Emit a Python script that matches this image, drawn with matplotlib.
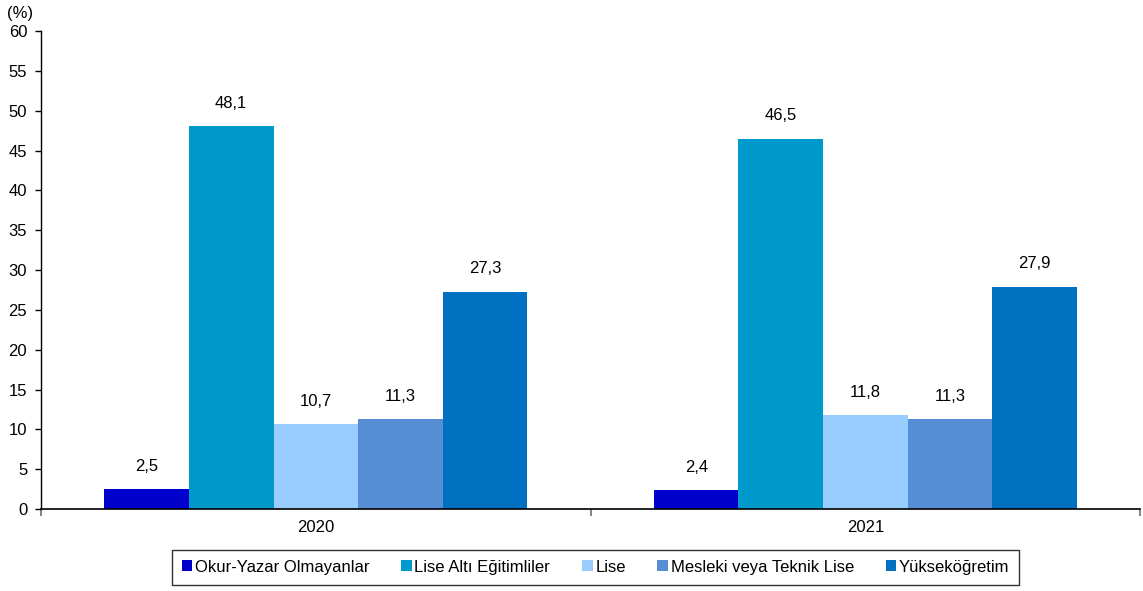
import numpy as np
import matplotlib.pyplot as plt

plt.rcParams['font.family'] = ['Liberation Sans', 'DejaVu Sans']

years = ["2020", "2021"]
series = ["Okur-Yazar Olmayanlar", "Lise Altı Eğitimliler", "Lise",
          "Mesleki veya Teknik Lise", "Yükseköğretim"]
values = [
    [2.5, 2.4],
    [48.1, 46.5],
    [10.7, 11.8],
    [11.3, 11.3],
    [27.3, 27.9],
]
colors = ["#0000CC", "#0099CC", "#99CCFF", "#558ED5", "#0070C0"]

fig = plt.figure(figsize=(11.43, 5.91), dpi=100)
ax = fig.add_axes([0.0359, 0.1387, 0.9615, 0.8088])

w = 1 / 6.5
centers = np.arange(len(years)) + 0.5
for i, (name, vals, c) in enumerate(zip(series, values, colors)):
    xs = centers + (i - 2) * w
    ax.bar(xs, vals, width=w, color=c, label=name, linewidth=0)
    for x, v in zip(xs, vals):
        ax.annotate(f"{v:.1f}".replace(".", ","), (x, v), xytext=(0, 11),
                    textcoords="offset points", ha="center", va="bottom",
                    fontsize=12)

ax.set_xlim(0, len(years))
ax.set_ylim(0, 60)
ax.set_yticks(range(0, 61, 5))
ax.tick_params(axis="y", labelsize=12, length=4, width=1, pad=6)

# category boundaries as tick marks, year labels in between
ax.set_xticks(np.arange(len(years) + 1))
ax.set_xticklabels([])
ax.set_xticks(centers, minor=True)
ax.set_xticklabels(years, minor=True)
ax.tick_params(axis="x", which="major", length=5, color="#888888", width=1.5)
ax.tick_params(axis="x", which="minor", length=0, labelsize=12, pad=8)

for s in ["top", "right"]:
    ax.spines[s].set_visible(False)
ax.spines["left"].set_linewidth(1)
ax.spines["bottom"].set_linewidth(1.2)

fig.text(0.006, 0.977, "(%)", fontsize=12, ha="left", va="center")

leg = fig.legend(loc="center", bbox_to_anchor=(0.521, 0.0406), ncol=5,
                 fontsize=12, frameon=True, fancybox=False,
                 handlelength=0.65, handleheight=0.65, handletextpad=0.15,
                 columnspacing=1.9, borderpad=0.6, borderaxespad=0)
leg.get_frame().set_edgecolor("black")
leg.get_frame().set_linewidth(1)

fig.savefig("out.png", dpi=100)
